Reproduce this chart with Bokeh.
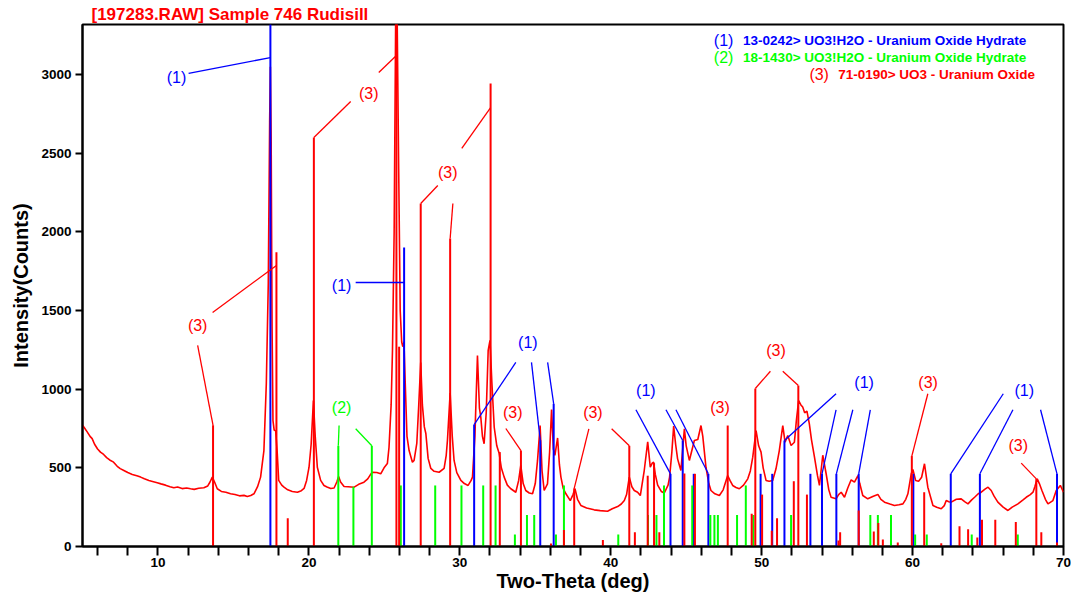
from bokeh.plotting import figure
from bokeh.models import FixedTicker, Range1d
from bokeh.core.properties import value
from bokeh.embed import file_html
from bokeh.resources import INLINE

two_theta = [5.0, 5.1, 5.3, 5.5, 5.64, 5.8, 6.0, 6.19, 6.4, 6.6, 6.8, 7.06, 7.3, 7.5, 7.74, 8.0, 8.3, 8.6, 8.85,
             9.1, 9.4, 9.7, 9.95, 10.2, 10.5, 10.8, 11.05, 11.3, 11.6, 11.9, 12.16, 12.4, 12.7, 13.04, 13.3, 13.45,
             13.6, 13.75, 13.93, 14.2, 14.5, 14.81, 15.1, 15.4, 15.7, 15.92, 16.15, 16.36, 16.6, 16.8, 17.02, 17.18,
             17.31, 17.4, 17.45, 17.5, 17.56, 17.62, 17.7, 17.8, 17.9, 18.0, 18.2, 18.35, 18.6, 18.9, 19.24, 19.5,
             19.68, 19.85, 20.01, 20.15, 20.3, 20.42, 20.56, 20.78, 21.0, 21.2, 21.45, 21.67, 21.85, 21.97, 22.1,
             22.33, 22.6, 23.0, 23.3, 23.65, 23.9, 24.1, 24.2, 24.5, 24.76, 24.98, 25.2, 25.31, 25.45, 25.54, 25.65,
             25.75, 25.85, 25.95, 26.05, 26.15, 26.22, 26.3, 26.38, 26.5, 26.64, 26.86, 26.97, 27.15, 27.28, 27.41,
             27.52, 27.65, 27.75, 27.9, 28.08, 28.3, 28.63, 28.96, 29.1, 29.18, 29.36, 29.5, 29.62, 29.8, 30.07,
             30.3, 30.55, 30.75, 30.84, 31.0, 31.17, 31.3, 31.39, 31.5, 31.61, 31.75, 31.88, 32.0, 32.12, 32.28,
             32.45, 32.61, 32.75, 32.94, 33.15, 33.38, 33.71, 33.9, 34.04, 34.2, 34.37, 34.6, 34.82, 35.0, 35.15,
             35.32, 35.45, 35.59, 35.81, 35.95, 36.08, 36.2, 36.3, 36.48, 36.6, 36.7, 36.85, 37.03, 37.32, 37.5,
             37.63, 37.8, 38.02, 38.4, 38.9, 39.3, 39.79, 40.1, 40.46, 40.7, 40.9, 41.05, 41.23, 41.4, 41.56, 41.78,
             41.96, 42.22, 42.45, 42.62, 42.75, 42.84, 42.95, 43.11, 43.35, 43.55, 43.8, 43.9, 44.05, 44.17, 44.3,
             44.43, 44.54, 44.65, 44.88, 45.0, 45.21, 45.4, 45.54, 45.77, 45.98, 46.1, 46.31, 46.5, 46.64, 46.9,
             47.2, 47.45, 47.75, 47.9, 48.08, 48.3, 48.52, 48.8, 49.08, 49.25, 49.41, 49.63, 49.8, 49.96, 50.1,
             50.29, 50.5, 50.73, 50.95, 51.17, 51.4, 51.55, 51.73, 51.95, 52.17, 52.3, 52.45, 52.6, 52.72, 52.85,
             53.0, 53.16, 53.3, 53.5, 53.7, 53.83, 54.05, 54.27, 54.45, 54.6, 54.93, 55.1, 55.27, 55.49, 55.7,
             55.93, 56.15, 56.38, 56.5, 56.7, 57.03, 57.4, 57.7, 57.9, 58.14, 58.5, 58.8, 59.1, 59.36, 59.55, 59.69,
             59.91, 60.02, 60.2, 60.4, 60.6, 60.79, 60.9, 61.01, 61.35, 61.6, 61.9, 62.1, 62.23, 62.4, 62.56, 62.9,
             63.22, 63.45, 63.67, 63.9, 64.11, 64.35, 64.55, 64.8, 65.0, 65.21, 65.4, 65.65, 66.0, 66.32, 66.6,
             66.98, 67.3, 67.53, 67.8, 67.98, 68.1, 68.26, 68.4, 68.57, 68.8, 68.97, 69.3, 69.52, 69.79, 70.0]
counts = [770, 758, 730, 700, 686, 650, 620, 600, 585, 565, 550, 536, 510, 495, 483, 470, 458, 450, 441,
          430, 420, 412, 405, 398, 390, 380, 373, 378, 368, 372, 367, 363, 370, 373, 385, 410,
          441, 410, 367, 350, 345, 335, 330, 322, 325, 318, 324, 335, 380, 441, 610, 1036,
          1672, 2700, 3050, 2600, 1400, 800, 740, 735, 600, 420, 390, 377, 360, 350, 345, 355,
          369, 420, 504, 650, 928, 700, 504, 420, 388, 378, 369, 372, 410, 445, 410,
          381, 380, 377, 395, 409, 430, 460, 472, 470, 462, 500, 527, 631, 900, 1250, 2000,
          3350, 3350, 2400, 1500, 1300, 1270, 1300, 1050, 700, 610, 536, 547, 655, 900, 1170,
          900, 760, 718, 560, 496, 478, 472, 496, 580, 674, 975, 700, 547, 470, 420,
          400, 388, 420, 441, 700, 1214, 880, 822, 700, 653, 850, 1246, 1310, 1050, 758,
          640, 591, 500, 441, 390, 367, 345, 420, 515, 400, 356, 340, 335, 400, 547,
          769, 480, 356, 398, 600, 870, 620, 580, 690, 520, 441, 370, 335, 292, 330,
          367, 300, 261, 245, 233, 228, 224, 240, 254, 270, 292, 330, 441, 380, 356, 345,
          324, 483, 665, 504, 530, 536, 460, 390, 350, 340, 390, 441, 600, 765, 650,
          557, 520, 483, 748, 640, 547, 620, 674, 680, 769, 700, 504, 400, 356, 335,
          324, 360, 451, 420, 388, 375, 367, 390, 430, 480, 568, 737, 640, 600, 500,
          420, 415, 420, 494, 610, 769, 663, 706, 642, 663, 800, 928, 900, 886, 850,
          860, 780, 680, 568, 450, 388, 580, 464, 360, 313, 303, 330, 345, 313, 370,
          424, 409, 451, 400, 324, 303, 320, 331, 300, 282, 270, 261, 265, 271, 300, 335,
          462, 490, 420, 415, 440, 526, 450, 377, 261, 250, 240, 260, 292, 285, 282, 300,
          303, 285, 271, 295, 313, 335, 345, 365, 377, 356, 320, 282, 250, 229, 250,
          271, 295, 313, 330, 345, 380, 430, 400, 356, 300, 271, 292, 356, 388, 345]

# ---------------- reference patterns (stick positions / heights) ----------------
# (1) 13-0242 UO3!H2O
p1_pos = [17.45, 26.31, 30.95, 35.33, 36.22, 43.96, 44.77, 45.5, 46.47, 49.93, 50.7, 51.51, 53.23, 54.0,
          54.95, 56.43, 60.05, 62.53, 64.46, 69.57]
p1_int = [3320, 1900, 775, 676, 907, 462, 674, 462, 462, 462, 462, 674, 462, 462, 462, 462, 462, 462, 462, 462]
# (2) 18-1430 UO3!H2O
p2_pos = [21.95, 22.95, 24.17, 26.09, 28.37, 30.11, 31.55, 32.37, 33.65, 34.45, 34.93, 36.37, 36.9, 40.5,
          42.47, 43.03, 43.53, 45.4, 46.6, 46.87, 47.1, 48.37, 48.95, 49.45, 51.95, 57.2, 57.7, 58.57, 60.17,
          60.94, 63.92, 66.97]
p2_int = [640, 380, 640, 388, 388, 388, 388, 388, 76, 200, 200, 76, 388, 76,
          200, 200, 388, 388, 200, 200, 200, 200, 388, 200, 200, 200, 200, 200, 76,
          76, 76, 76]
# (3) 71-0190 UO3
p3_pos = [13.65, 17.85, 18.6, 20.33, 25.8, 25.98, 27.41, 29.36, 32.04, 32.65, 34.05, 36.04, 36.9, 37.58,
          39.48, 41.23, 41.6, 42.45, 42.87, 43.22, 44.88, 45.58, 47.75, 49.34, 49.58, 50.03, 50.67, 51.02,
          52.13, 52.43, 53.0, 55.09, 55.2, 56.43, 57.43, 57.73, 58.03, 59.02, 59.95, 60.77, 61.9, 63.11,
          63.68, 64.29, 64.6, 65.48, 66.84, 68.2, 68.53, 69.57]
p3_int = [770, 1870, 180, 2600, 3320, 1270, 2180, 1958, 2943, 600, 610, 19, 105, 370,
          42, 640, 91, 450, 530, 91, 464, 462, 769, 208, 1004, 330, 100, 180,
          415, 1023, 330, 38, 91, 229, 95, 150, 45, 25, 575, 345, 21, 129,
          110, 57, 170, 170, 155, 430, 91, 25]

# ---------------- peak annotations ----------------
p1_tag_x = [11.23, 22.17, 34.51, 42.33, 56.79, 67.4]
p1_tag_y = [2981, 1659, 1297, 992, 1043, 992]
p2_tag_x = [22.17]
p2_tag_y = [884]
p3_tag_x = [12.63, 23.97, 29.2, 33.51, 38.82, 47.24, 50.95, 61.03, 67.0]
p3_tag_y = [1405, 2880, 2378, 852, 852, 884, 1246, 1043, 642]

p1_lead_x0 = [12.03, 23.1, 33.71, 34.75, 35.82, 41.67, 43.66, 44.32, 54.93, 54.93, 56.04, 57.2, 66.01, 66.65, 68.48]
p1_lead_y0 = [3007, 1678, 1170, 1170, 1170, 869, 869, 869, 971, 869, 869, 869, 971, 869, 869]
p1_lead_x1 = [17.45, 26.31, 30.95, 35.33, 36.22, 43.96, 44.77, 46.47, 51.51, 54.0, 54.95, 56.43, 62.53, 64.46, 69.57]
p1_lead_y1 = [3108, 1678, 775, 676, 907, 462, 674, 462, 674, 462, 462, 462, 462, 462, 462]

p2_lead_x0 = [22.0, 23.1]
p2_lead_y0 = [769, 748]
p2_lead_x1 = [21.95, 24.17]
p2_lead_y1 = [640, 640]

p3_lead_x0 = [12.63, 13.62, 22.77, 24.63, 28.54, 29.54, 30.13, 33.05, 38.55, 40.06, 50.58, 51.4, 61.01, 67.2]
p3_lead_y0 = [1278, 1488, 2829, 3013, 2295, 2180, 2530, 750, 748, 748, 1114, 1114, 971, 530]
p3_lead_x1 = [13.65, 17.85, 20.33, 25.8, 27.41, 29.36, 32.04, 34.05, 37.58, 41.23, 49.58, 52.43, 59.95, 68.2]
p3_lead_y1 = [770, 1786, 2600, 3121, 2180, 1958, 2790, 610, 370, 640, 1004, 1023, 575, 430]

# ---------------- legend ----------------
legend_tags = ["(1)", "(2)", "(3)"]
legend_names = ["13-0242> UO3!H2O - Uranium Oxide Hydrate",
                "18-1430> UO3!H2O - Uranium Oxide Hydrate",
                "71-0190> UO3 - Uranium Oxide"]
legend_tag_x = [47.48, 47.48, 53.81]
legend_name_x = [48.77, 48.77, 55.07]
legend_y = [3217, 3108, 3000]

x_major = [10, 20, 30, 40, 50, 60, 70]
x_minor = [6, 8, 12, 14, 16, 18, 22, 24, 26, 28, 32, 34, 36, 38, 42, 44, 46, 48, 52, 54, 56, 58, 62, 64, 66, 68]
y_major = [0, 500, 1000, 1500, 2000, 2500, 3000]

BLUE = "#0000FF"
GREEN = "#00FF00"
RED = "#FF0000"
FONT = "Liberation Sans"

p = figure(frame_width=981, frame_height=522, x_range=Range1d(5, 70), y_range=Range1d(0, 3318),
           output_backend="svg", toolbar_location=None,
           min_border_left=82, min_border_right=8, min_border_top=24, min_border_bottom=40)

p.title.text = "[197283.RAW] Sample 746 Rudisill"
p.title.align = "left"
p.title.offset = 9
p.title.standoff = 2
p.title.text_font = FONT
p.title.text_font_size = "17px"
p.title.text_font_style = "bold"
p.title.text_color = RED

p.background_fill_color = "white"
p.border_fill_color = "white"
p.outline_line_color = "black"
p.outline_line_width = 2
p.grid.visible = False

p.xaxis.ticker = FixedTicker(ticks=x_major, minor_ticks=x_minor)
p.yaxis.ticker = FixedTicker(ticks=y_major, minor_ticks=[])
for ax in (p.xaxis[0], p.yaxis[0]):
    ax.axis_line_width = 2
    ax.major_tick_line_width = 2
    ax.minor_tick_line_width = 2
    ax.major_tick_in = 0
    ax.minor_tick_in = 0
    ax.major_label_text_font = FONT
    ax.major_label_text_font_style = "bold"
    ax.major_label_text_font_size = "13.5px"
    ax.major_label_text_color = "black"
    ax.axis_label_text_font = FONT
    ax.axis_label_text_font_style = "bold"
    ax.axis_label_text_font_size = "20px"
    ax.axis_label_text_color = "black"
p.xaxis.major_tick_out = 9
p.xaxis.minor_tick_out = 9
p.xaxis.major_label_standoff = 2
p.xaxis.axis_label_standoff = 0
p.xaxis.axis_label = "Two-Theta (deg)"
p.yaxis.major_tick_out = 7
p.yaxis.minor_tick_out = 0
p.yaxis.major_label_standoff = 4
p.yaxis.axis_label_standoff = 6
p.yaxis.axis_label = "Intensity(Counts)"

# measured scan
p.line(two_theta, counts, line_color=RED, line_width=1.6)

# sticks
p.segment(x0=p1_pos, y0=[0] * len(p1_pos), x1=p1_pos, y1=p1_int, line_color=BLUE, line_width=2)
p.segment(x0=p2_pos, y0=[0] * len(p2_pos), x1=p2_pos, y1=p2_int, line_color=GREEN, line_width=2)
p.segment(x0=p3_pos, y0=[0] * len(p3_pos), x1=p3_pos, y1=p3_int, line_color=RED, line_width=2)

# leaders
p.segment(x0=p1_lead_x0, y0=p1_lead_y0, x1=p1_lead_x1, y1=p1_lead_y1, line_color=BLUE, line_width=1.3)
p.segment(x0=p2_lead_x0, y0=p2_lead_y0, x1=p2_lead_x1, y1=p2_lead_y1, line_color=GREEN, line_width=1.3)
p.segment(x0=p3_lead_x0, y0=p3_lead_y0, x1=p3_lead_x1, y1=p3_lead_y1, line_color=RED, line_width=1.3)

tag_kw = dict(text_font=value(FONT), text_font_size="16px", text_align="center", text_baseline="middle")
p.text(x=p1_tag_x, y=p1_tag_y, text=["(1)"] * len(p1_tag_x), text_color=BLUE, **tag_kw)
p.text(x=p2_tag_x, y=p2_tag_y, text=["(2)"] * len(p2_tag_x), text_color=GREEN, **tag_kw)
p.text(x=p3_tag_x, y=p3_tag_y, text=["(3)"] * len(p3_tag_x), text_color=RED, **tag_kw)

# legend
leg_colors = [BLUE, GREEN, RED]
p.text(x=legend_tag_x, y=legend_y, text=legend_tags, text_color=leg_colors, **tag_kw)
p.text(x=legend_name_x, y=legend_y, text=legend_names, text_color=leg_colors,
       text_font=value(FONT), text_font_size="13.5px", text_font_style="bold",
       text_align="left", text_baseline="middle")

open("out.html", "w").write(file_html(p, INLINE))
